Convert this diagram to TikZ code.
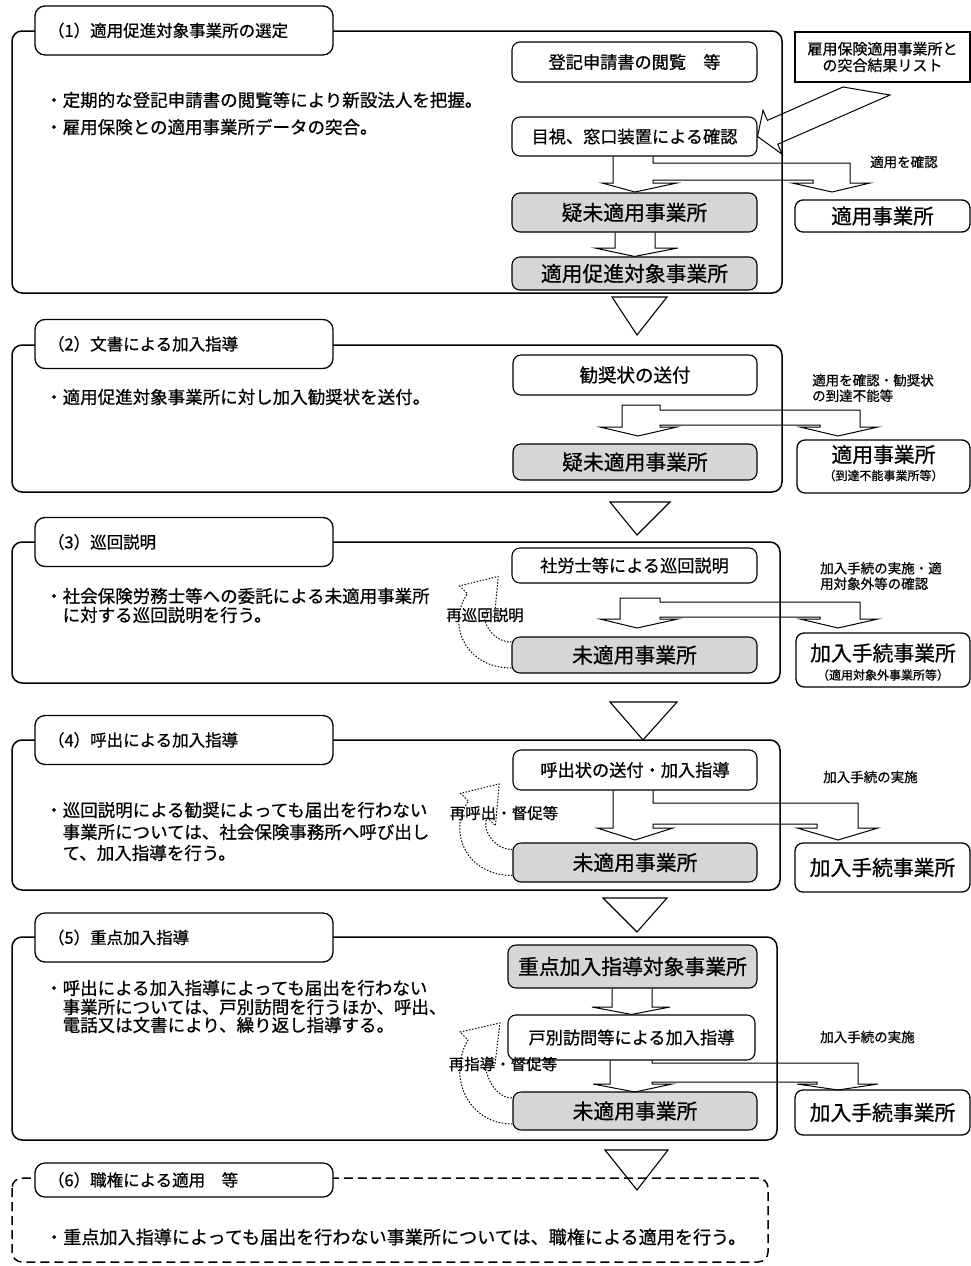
\documentclass[tikz,border=0pt]{standalone}
\usepackage{fontspec}
\setmainfont{Noto Sans CJK JP}[FakeBold=0.7]
\usetikzlibrary{calc}
\newcommand{\fsz}[1]{\fontsize{#1}{#1}\selectfont}
\tikzset{
 frame/.style={draw, line width=1.5pt, rounded corners=10pt},
 tabbox/.style={draw, line width=1.3pt, rounded corners=10pt, fill=white, minimum width=298pt, minimum height=49pt, text width=272pt, inner xsep=13pt, inner ysep=0pt, align=left, font=\fsz{16.5}},
 box/.style={draw, line width=1.1pt, rounded corners=8pt, fill=white, inner sep=0pt, font=\fsz{17.2}},
 shaded/.style={box, fill=black!16, font=\fsz{20.8}},
 rbox/.style={draw, line width=1.3pt, rounded corners=8pt, fill=white, inner sep=0pt},
 lab/.style={inner sep=0pt, anchor=west, align=left, font=\fontsize{13.5}{15.5}\selectfont},
 bul/.style={anchor=west, inner sep=0pt, font=\fsz{17.5}},
 blk/.style={draw, line width=1pt, line join=miter},
 tri/.style={draw, line width=1.1pt, line join=miter},
 loopline/.style={draw, line width=1pt, dash pattern=on 1.5pt off 1.6pt},
 loopl/.style={inner sep=0pt, font=\fsz{15.5}},
 big/.style={inner sep=0pt, font=\fsz{20.8}},
 small/.style={inner sep=0pt, font=\fsz{12}},
}
\begin{document}
\begin{tikzpicture}[x=1pt,y=-1pt]
\useasboundingbox (0,0) rectangle (971,1266);

% ===== Section 1 =====
\draw[frame] (12,31) rectangle (782,293);
\node[tabbox] (t1) at (184,30.5) {（1）適用促進対象事業所の選定};
\node[bul] (p1a) at (45,100) {・定期的な登記申請書の閲覧等により新設法人を把握。};
\node[bul] (p1b) at (45,127) {・雇用保険との適用事業所データの突合。};
\node[box, minimum width=245pt, minimum height=40pt] (b1a) at (634.5,62) {登記申請書の閲覧　等};
\node[box, minimum width=245pt, minimum height=39pt] (b1b) at (634.5,136.5) {目視、窓口装置による確認};
\node[shaded, minimum width=245pt, minimum height=39pt] (b1c) at (634.5,212.5) {疑未適用事業所};
\node[shaded, minimum width=245pt, minimum height=33pt] (b1d) at (634.5,273.5) {適用促進対象事業所};
\node[draw, line width=1.1pt, minimum width=175pt, minimum height=50pt, inner sep=0pt, align=center, font=\fontsize{15}{16.5}\selectfont] (lst) at (882.5,57) {雇用保険適用事業所と\\の突合結果リスト};
\node[rbox, minimum width=175pt, minimum height=32pt, font=\fsz{20.5}] (r1) at (882.5,216) {適用事業所};
\node[lab] (l1) at (870,162) {適用を確認};
% split arrow
\draw[blk] ($(b1b.south)+(-21.5,0)$) -- (613,183) -- (602,183) -- (635,192) -- (677,183) -- (653,183) -- (653,180) -- (813,180) -- (813,183) -- (792,183) -- (832,192) -- (870,183) -- (850,183) -- (850,163) -- (653,163) -- ($(b1b.south)+(18.5,0)$);
\draw[blk] ($(b1c.south)+(-19.5,0)$) -- (615,248) -- (595,248) -- (b1d.north) -- (678,248) -- (655,248) -- ($(b1c.south)+(20.5,0)$);
% big arrow from list
\draw[blk] (843,87) -- (767.4,120.4) -- (763,110.3) -- (b1b.east) -- (782.2,154.3) -- (777.8,144.2) -- (890,95) -- cycle;
\draw[tri] (612,297) -- (667,297) -- (637,335) -- cycle;

% ===== Section 2 =====
\draw[frame] (12,345) rectangle (782,492);
\node[tabbox] (t2) at (184,344) {（2）文書による加入指導};
\node[bul] (p2a) at (45,397) {・適用促進対象事業所に対し加入勧奨状を送付。};
\node[box, minimum width=244pt, minimum height=40pt, font=\fsz{18.5}] (b2a) at (635,375) {勧奨状の送付};
\node[shaded, minimum width=244pt, minimum height=36pt] (b2b) at (635,462) {疑未適用事業所};
\node[rbox, minimum width=173pt, minimum height=53pt] (r2) at (883.5,466.5) {};
\node[big] (r2a) at ($(r2.center)+(0,-12)$) {適用事業所};
\node[small] (r2b) at ($(r2.center)+(0,9)$) {（到達不能事業所等）};
\node[lab] (l2) at (812,388) {適用を確認・勧奨状\\の到達不能等};
\draw[blk] (622,427) -- (622,405) -- (660,405) -- (660,410) -- (860,410) -- (860,427) -- (878,427) -- (838,436) -- (800,427) -- (820,427) -- (820,425) -- (660,425) -- (660,427) -- (677,427) -- (638,436) -- (600,427) -- cycle;
\draw[tri] (610,502) -- (670,502) -- (637,535) -- cycle;

% ===== Section 3 =====
\draw[frame] (12,542) rectangle (780,683);
\node[tabbox] (t3) at (184,542) {（3）巡回説明};
\node[bul] (p3a) at (45,596) {・社会保険労務士等への委託による未適用事業所};
\node[bul] (p3b) at (62.5,615) {に対する巡回説明を行う。};
\node[box, minimum width=245pt, minimum height=35pt] (b3a) at (634.5,565.5) {社労士等による巡回説明};
\node[shaded, minimum width=245pt, minimum height=36pt] (b3b) at (634.5,655) {未適用事業所};
\node[rbox, minimum width=174pt, minimum height=54pt] (r3) at (883,660) {};
\node[big] (r3a) at ($(r3.center)+(0,-7)$) {加入手続事業所};
\node[small] (r3b) at ($(r3.center)+(0,15)$) {（適用対象外事業所等）};
\node[lab] (l3) at (820,576) {加入手続の実施・適\\用対象外等の確認};
\draw[blk] (620,619) -- (620,598) -- (660,598) -- (660,602) -- (860,602) -- (860,619) -- (878,619) -- (838,628) -- (800,619) -- (820,619) -- (820,617) -- (660,617) -- (660,619) -- (678,619) -- (637,628) -- (600,619) -- cycle;
\draw[loopline] ($(b3b.west)+(0,13)$) .. controls (466,668) and (446,625) .. (467.4,593.6) -- (459.6,585.9) -- (498.2,576.4) -- (494.4,618.1) -- (486.6,610.4) .. controls (480,617) and (490,642) .. ($(b3b.west)+(0,-13)$);
\node[loopl] (q3) at (485,615) {再巡回説明};
\draw[tri] (610,702) -- (677,702) -- (643,740) -- cycle;

% ===== Section 4 =====
\draw[frame] (12,740) rectangle (780,890);
\node[tabbox] (t4) at (184,740) {（4）呼出による加入指導};
\node[bul] (p4a) at (45,810) {・巡回説明による勧奨によっても届出を行わない};
\node[bul] (p4b) at (62.5,832) {事業所については、社会保険事務所へ呼び出し};
\node[bul] (p4c) at (62.5,853) {て、加入指導を行う。};
\node[box, minimum width=244pt, minimum height=40pt] (b4a) at (635,770) {呼出状の送付・加入指導};
\node[shaded, minimum width=244pt, minimum height=39pt] (b4b) at (635,862.5) {未適用事業所};
\node[rbox, minimum width=175pt, minimum height=49pt, font=\fsz{20.8}] (r4) at (882.5,867.5) {加入手続事業所};
\node[lab] (l4) at (823,777) {加入手続の実施};
\draw[blk] ($(b4a.south)+(-22,0)$) -- (613,828) -- (597,828) -- (635,840) -- (673,828) -- (653,828) -- (653,824) -- (817,824) -- (817,828) -- (797,828) -- (838,840) -- (878,828) -- (858,828) -- (858,803) -- (653,803) -- ($(b4a.south)+(18,0)$);
\draw[loopline] ($(b4b.west)+(0,13)$) .. controls (467,875.5) and (447,832.5) .. (468.4,801.1) -- (460.6,793.4) -- (499.2,783.9) -- (495.4,825.6) -- (487.6,817.9) .. controls (481,824.5) and (491,849.5) .. ($(b4b.west)+(0,-13)$);
\node[loopl] (q4) at (504,813) {再呼出・督促等};
\draw[tri] (603,898) -- (667,898) -- (637,932) -- cycle;

% ===== Section 5 =====
\draw[frame] (12,937) rectangle (777,1140);
\node[tabbox] (t5) at (184,937.5) {（5）重点加入指導};
\node[bul] (p5a) at (45,988) {・呼出による加入指導によっても届出を行わない};
\node[bul] (p5b) at (62.5,1007) {事業所については、戸別訪問を行うほか、呼出、};
\node[bul] (p5c) at (62.5,1025) {電話又は文書により、繰り返し指導する。};
\node[shaded, minimum width=249pt, minimum height=43pt] (b5a) at (632.5,966.5) {重点加入指導対象事業所};
\node[box, minimum width=247pt, minimum height=45pt] (b5b) at (631.5,1037.5) {戸別訪問等による加入指導};
\node[shaded, minimum width=244pt, minimum height=38pt] (b5c) at (635,1111) {未適用事業所};
\node[rbox, minimum width=175pt, minimum height=45pt, font=\fsz{20.8}] (r5) at (882.5,1112.5) {加入手続事業所};
\node[lab] (l5) at (820,1037) {加入手続の実施};
\draw[blk] ($(b5a.south)+(-20.5,0)$) -- (612,1007) -- (592,1007) -- (b5b.north) -- (670,1007) -- (652,1007) -- ($(b5a.south)+(19.5,0)$);
\draw[blk] ($(b5b.south)+(-21.5,0)$) -- (610,1084) -- (593,1084) -- (635,1092) -- (672,1084) -- (652,1084) -- (652,1082) -- (817,1082) -- (817,1084) -- (797,1084) -- (838,1090) -- (878,1084) -- (858,1084) -- (858,1063) -- (652,1063) -- ($(b5b.south)+(20.5,0)$);
\draw[loopline] ($(b5c.west)+(0,13)$) .. controls (467,1124) and (447,1075) .. (468,1040) -- (460,1032) -- (500,1023) -- (495,1064) -- (487,1057) .. controls (481,1064) and (491,1098) .. ($(b5c.west)+(0,-13)$);
\node[loopl] (q5) at (503,1064) {再指導・督促等};
\draw[tri] (605,1150) -- (668,1150) -- (637,1190) -- cycle;

% ===== Section 6 =====
\draw[frame, dash pattern=on 9pt off 5pt] (12,1178) rectangle (768,1262);
\node[tabbox, minimum height=34pt] (t6) at (184,1180) {（6）職権による適用　等};
\node[bul, font=\fsz{18.1}] (p6) at (45,1237) {・重点加入指導によっても届出を行わない事業所については、職権による適用を行う。};
\end{tikzpicture}
\end{document}
